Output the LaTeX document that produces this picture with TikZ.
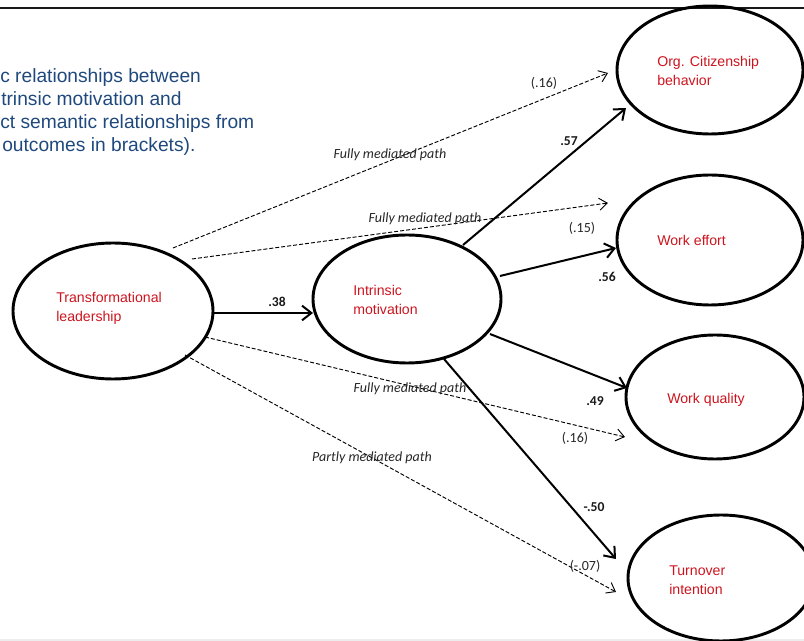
\documentclass[tikz,border=0pt]{standalone}
\usepackage{fontspec}
\setmainfont{Liberation Sans}
\newfontfamily\calibri{Carlito}
\usetikzlibrary{arrows.meta,shapes.geometric}

\definecolor{titleblue}{RGB}{31,73,125}
\definecolor{varred}{RGB}{204,20,30}

\begin{document}
\begin{tikzpicture}[x=0.75pt,y=-0.75pt,
  construct/.style={ellipse, draw=black, line width=2.2pt, inner sep=0pt, outer sep=0pt},
  varname/.style={anchor=west, align=left, text=varred, inner sep=0pt,
                  font=\fontsize{10.6}{14.25}\selectfont},
  titleline/.style={anchor=base west, inner sep=0pt, text=titleblue,
                    font=\fontsize{14.4}{17}\selectfont},
  direct/.style={line width=1.5pt, -{Straight Barb[length=7pt,width=11pt]}},
  indirect/.style={line width=0.7pt, dash pattern=on 3pt off 1.5pt,
                   -{Straight Barb[length=6pt,width=9pt]}},
  coef/.style={inner sep=0pt, text=black!90, font=\calibri\bfseries\fontsize{10.2}{12}\selectfont},
  indcoef/.style={inner sep=0pt, text=black!85, font=\calibri\fontsize{10.5}{12}\selectfont},
  pathnote/.style={inner sep=0pt, text=black!85, font=\calibri\itshape\fontsize{10.5}{12}\selectfont}
]
\clip (0,0) rectangle (804,641);

% frame lines
\draw[line width=1.6pt, black!90] (0,8) coordinate (rulel) -- (804,8) coordinate (ruler);
\draw[line width=0.8pt, black!7] (0,640) coordinate (footl) -- (804,640) coordinate (footr);

% caption lines
\node[titleline] (cap1) at (0,83)  {c relationships between};
\node[titleline] (cap2) at (1,106) {trinsic motivation and};
\node[titleline] (cap3) at (0,129) {ct semantic relationships from};
\node[titleline] (cap4) at (2,152) {outcomes in brackets).};

% constructs
\node[construct, minimum width=150pt,   minimum height=102pt]  (TL)  at (113,311) {};
\node[construct, minimum width=141pt,   minimum height=96pt]   (IM)  at (407,299) {};
\node[construct, minimum width=139.5pt, minimum height=96pt]   (OCB) at (710,70)  {};
\node[construct, minimum width=139.5pt, minimum height=97.5pt] (WE)  at (710,240) {};
\node[construct, minimum width=133.5pt, minimum height=93pt]   (WQ)  at (715,397) {};
\node[construct, minimum width=139.5pt, minimum height=94.5pt] (TI)  at (721,578) {};

\node[varname] (TLt)  at (56,308)  {Transformational\\leadership};
\node[varname] (IMt)  at (353,300) {Intrinsic\\motivation};
\node[varname] (OCBt) at (657,71)  {Org. Citizenship\\behavior};
\node[varname] (WEt)  at (657,240) {Work effort};
\node[varname] (WQt)  at (667,400) {Work quality};
\node[varname] (TIt)  at (669,580) {Turnover\\intention};

% direct effects
\draw[direct] ([shift={(100,2)}]TL.center)  -- ([shift={(-94,14)}]IM.center);
\draw[direct] ([shift={(56,-54)}]IM.center) -- ([shift={(-84,38)}]OCB.center);
\draw[direct] ([shift={(93,-23)}]IM.center) -- ([shift={(-94,8)}]WE.center);
\draw[direct] ([shift={(83,35)}]IM.center)  -- ([shift={(-88,-9)}]WQ.center);
\draw[direct] ([shift={(37,60)}]IM.center)  -- ([shift={(-105,-19)}]TI.center);

% indirect (mediated) effects
\draw[indirect] ([shift={(60,-63)}]TL.center) -- ([shift={(-102,3)}]OCB.center);
\draw[indirect] ([shift={(79,-52)}]TL.center) -- ([shift={(-102,-37)}]WE.center);
\draw[indirect] ([shift={(92,26)}]TL.center)  -- ([shift={(-90,40)}]WQ.center);
\draw[indirect] ([shift={(72,44)}]TL.center)  -- ([shift={(-105,14)}]TI.center);

% coefficients
\node[coef] (c38) at (277,302) {.38};
\node[coef] (c57) at (569,141) {.57};
\node[coef] (c56) at (607,277) {.56};
\node[coef] (c49) at (595,401) {.49};
\node[coef] (c50) at (594,507) {-.50};

\node[indcoef] (i16a) at (544,83)  {(.16)};
\node[indcoef] (i15)  at (582,228) {(.15)};
\node[indcoef] (i16b) at (575,438) {(.16)};
\node[indcoef] (i07)  at (585,566) {(-.07)};

\node[pathnote] (p1) at (390,155) {Fully mediated path};
\node[pathnote] (p2) at (425,219) {Fully mediated path};
\node[pathnote] (p3) at (410,389) {Fully mediated path};
\node[pathnote] (p4) at (372,458) {Partly mediated path};
\end{tikzpicture}
\end{document}
